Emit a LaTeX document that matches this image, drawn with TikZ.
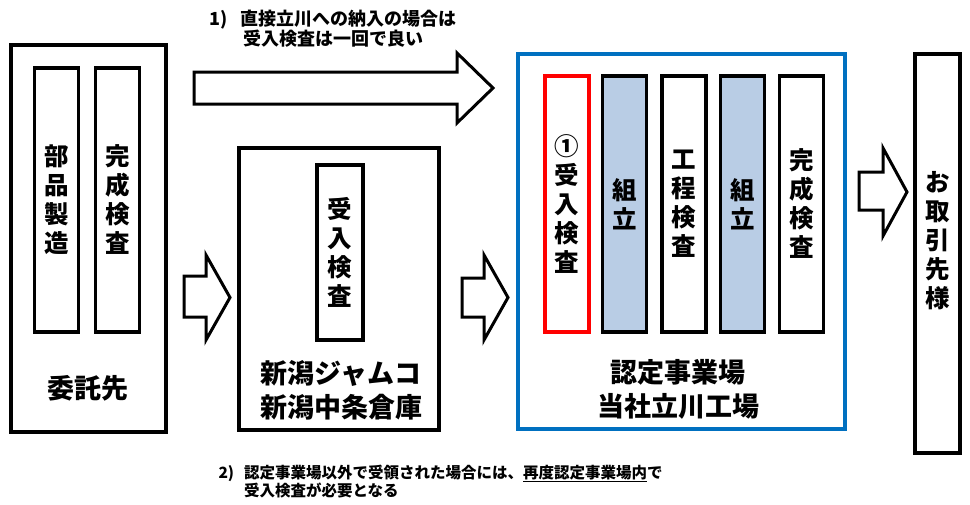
\documentclass[tikz,border=0pt]{standalone}
\usepackage{fontspec}
\setmainfont{Noto Sans CJK JP}
\usetikzlibrary{positioning}

\definecolor{siteblue}{RGB}{0,112,192}
\definecolor{assyfill}{RGB}{185,205,229}

% block arrow: x-left, x-head, x-tip, y-shaft-top, y-shaft-bottom, y-head-top, y-head-bottom
\newcommand{\fatarrow}[7]{%
  \draw[line width=3pt, line join=miter]
    (#1,#4) -- (#2,#4) -- (#2,#6) -- (#3,{(#6+#7)/2}) -- (#2,#7)
    -- (#2,#5) -- (#1,#5) -- cycle;}

\begin{document}
\begin{tikzpicture}[x=1pt, y=-1pt,
  frame/.style={draw, line width=3.3pt, inner sep=0pt},
  stepbox/.style={draw, line width=3.3pt, inner sep=0pt, minimum width=44pt,
    align=center, font=\bfseries\fontsize{24.5}{29}\selectfont},
  label/.style={align=center, font=\bfseries\fontsize{27}{34}\selectfont},
  note/.style={font=\bfseries\fontsize{18}{20}\selectfont}]

  \useasboundingbox (0,0) rectangle (970,504);

  % Consignee
  \node[frame, minimum width=155pt, minimum height=387pt] (consign) at (88.5,238.5) {};
  \node[stepbox, minimum height=264pt] (partmake) at (56.5,200) {部\\品\\製\\造};
  \node[stepbox, minimum height=264pt] (finalchkA) at (117.5,200) {完\\成\\検\\査};
  \node[label] (consignlbl) at (88,388) {委託先};

  % Niigata warehouse
  \node[frame, minimum width=200pt, minimum height=282pt] (niigata) at (339,289) {};
  \node[stepbox, minimum width=46pt, minimum height=175pt] (recvchkA) at (340,252.5) {受\\入\\検\\査};
  \node[label] (niigatalbl) at (341,390) {新潟ジャムコ\\新潟中条倉庫};

  % Certified site
  \node[frame, draw=siteblue, line width=3.6pt, minimum width=327pt, minimum height=375pt] (site) at (681.5,241.5) {};
  \node[stepbox, draw=red, minimum height=256pt] (recvchkB) at (567,204) {①\\受\\入\\検\\査};
  \node[stepbox, fill=assyfill, minimum height=256pt] (assyA) at (624.5,204) {組\\立};
  \node[stepbox, minimum height=256pt] (procchk) at (684,204) {工\\程\\検\\査};
  \node[stepbox, fill=assyfill, minimum height=256pt] (assyB) at (742.5,204) {組\\立};
  \node[stepbox, minimum height=256pt] (finalchkB) at (801.5,204) {完\\成\\検\\査};
  \node[label] (sitelbl) at (678,389) {認定事業場\\当社立川工場};

  % Customer
  \node[stepbox, minimum width=45pt, minimum height=399pt] (customer) at (937.5,253.5) {};
  \node[stepbox, draw=none] (customerlbl) at (937.5,241) {お\\取\\引\\先\\様};

  % Flow arrows
  \fatarrow{194}{457}{493}{72}{104}{53}{123}
  \fatarrow{184}{206}{230}{276}{317}{255}{340}
  \fatarrow{462}{484}{508}{278}{317}{255}{340}
  \fatarrow{859}{883}{907}{172}{210}{148}{236}

  % Notes
  \node[note, align=center] (noteA) at (333,29) {1)\hspace{12pt}直接立川への納入の場合は\\受入検査は一回で良い};
  \node[note, anchor=west, align=left, font=\bfseries\fontsize{15.5}{15.5}\selectfont] (noteB) at (215,482)
    {2)\hspace{10pt}認定事業場以外で受領された場合には、\underline{再度認定事業場内}で\\
     \phantom{2)}\hspace{10pt}受入検査が必要となる};
\end{tikzpicture}
\end{document}
